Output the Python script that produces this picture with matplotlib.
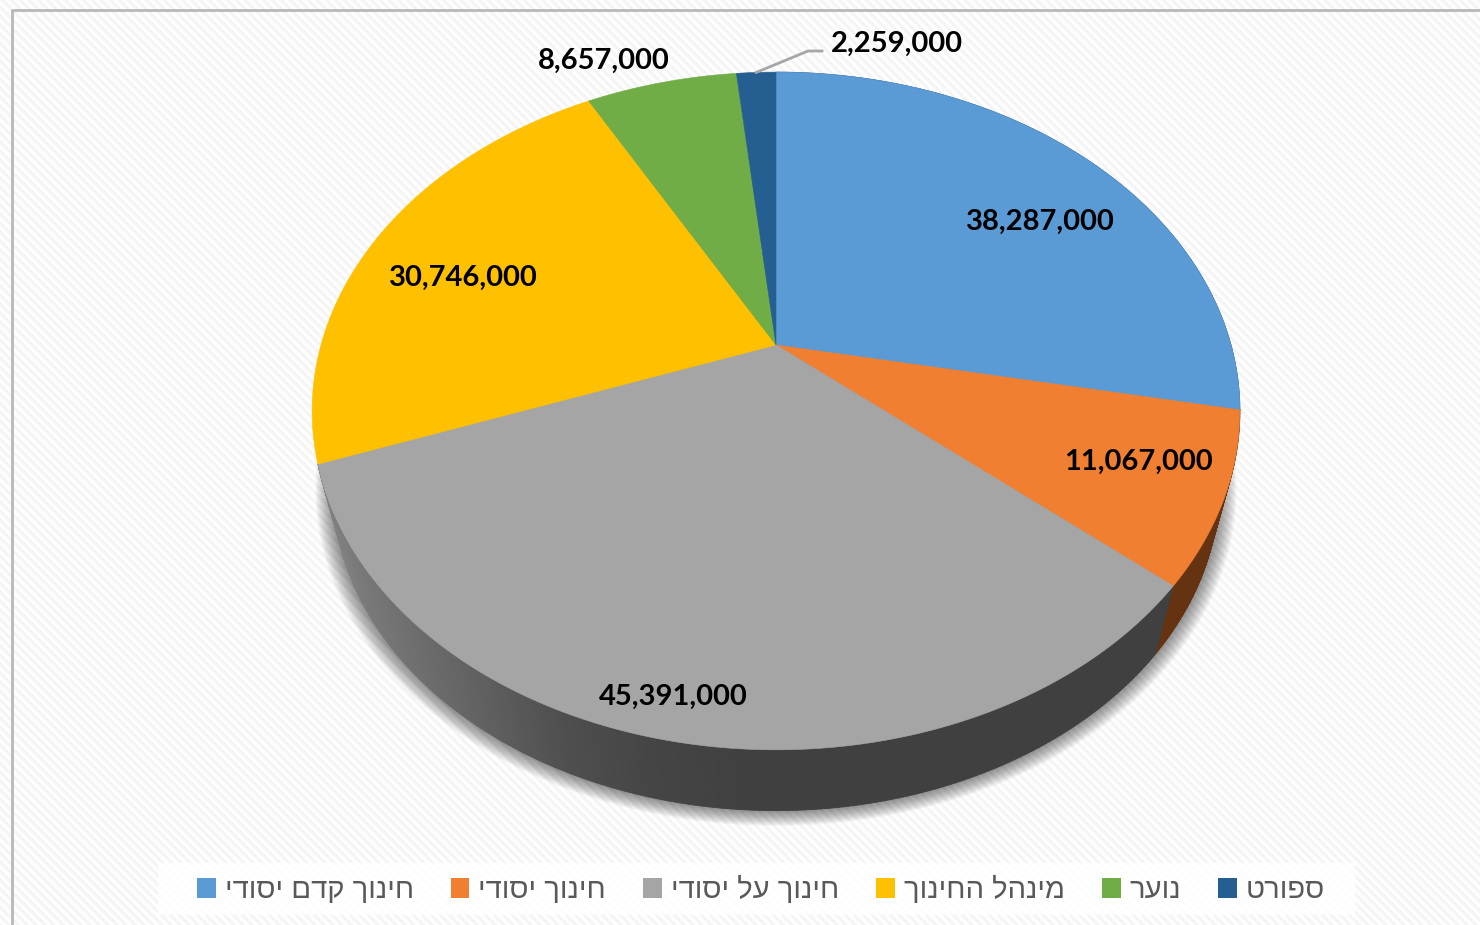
import matplotlib
matplotlib.use('Agg')
import matplotlib.pyplot as plt
import numpy as np
from matplotlib.collections import PolyCollection
from matplotlib.patches import Patch, Polygon, Rectangle

# legend names, logical order (matplotlib has no bidi, they get reversed when drawn)
names = ['חינוך קדם יסודי', 'חינוך יסודי', 'חינוך על יסודי', 'מינהל החינוך', 'נוער', 'ספורט']
values = [38287000, 11067000, 45391000, 30746000, 8657000, 2259000]

colors = ['#5B9BD5', '#F07F31', '#A5A5A5', '#FFC000', '#70AD47', '#255E91']
label_xy = [(1040, 222), (1138, 462), (673, 697), (463, 278), (604, 61), (897, 44)]

# pie geometry in pixels
cx, cy = 776, 345
a, b, k = 455, 326, 0.1947
depth, shrink = 79, 0.955


def project(deg, scale=1.0, dy=0.0, grow=1.0):
    # clockwise degrees from 12 o'clock -> tilted disc seen in perspective
    t = np.radians(deg)
    u, v = np.sin(t), -np.cos(t)
    x = a * u / (1 - k * v)
    y = b * v / (1 - k * v)
    return cx + x * scale * grow, cy + dy + y * scale * grow


fig = plt.figure(figsize=(14.8, 9.25), dpi=100)
ax = fig.add_axes([0, 0, 1, 1])
ax.set_xlim(0, 1480)
ax.set_ylim(925, 0)
ax.axis('off')

# diagonal texture of the chart area
yy, xx = np.mgrid[0:925, 0:1480]
stripes = 0.5 + 0.5 * np.sin((xx - yy) * 2 * np.pi / 9)
ax.imshow(1 - 0.045 * stripes, cmap='gray', vmin=0, vmax=1, extent=(0, 1480, 925, 0),
          aspect='auto', interpolation='bilinear', zorder=0)
ax.plot([12, 12, 1480], [925, 10, 10], color='#b8b8b8', lw=2, zorder=1)

# soft shadow round the bottom of the pie
rim = np.linspace(0, 360, 361)
for e in np.arange(1, 19):
    sx, sy = project(rim, shrink, depth, 1 + e / 450)
    ax.add_patch(Polygon(np.column_stack([sx, sy]), closed=True, fc='black', ec='none',
                         alpha=0.028, zorder=2))

# slice boundaries in degrees
shares = np.array(values) / sum(values)
edges = np.concatenate([[0], np.cumsum(shares)]) * 360

# side wall, strip by strip
strips, strip_colors = [], []
grey_x = [330, 360, 450, 560, 650, 750]
grey_v = [0.50, 0.47, 0.40, 0.31, 0.27, 0.25]
for i in range(3):
    d = np.arange(edges[i], edges[i + 1], 0.5)
    d = np.append(d, edges[i + 1])
    for d0, d1 in zip(d[:-1], d[1:]):
        x0, y0 = project(d0)
        x1, y1 = project(d1)
        x2, y2 = project(d1, shrink, depth)
        x3, y3 = project(d0, shrink, depth)
        strips.append([(x0, y0), (x1, y1), (x2, y2), (x3, y3)])
        if i == 1:
            strip_colors.append('#653311')
        elif i == 2:
            g = np.interp(x0, grey_x, grey_v)
            strip_colors.append((g, g, g))
        else:
            strip_colors.append('#2f5f8a')
ax.add_collection(PolyCollection(strips, facecolors=strip_colors, edgecolors=strip_colors,
                                 linewidths=0.6, zorder=3))

# top of the pie
for i in range(len(values)):
    d = np.linspace(edges[i], edges[i + 1], 200)
    x, y = project(d)
    pts = np.column_stack([np.r_[cx, x], np.r_[cy, y]])
    ax.add_patch(Polygon(pts, closed=True, fc=colors[i], ec=colors[i], lw=0.4, zorder=4))

# leader line of the smallest slice
lx, ly = project((edges[5] + edges[6]) / 2)
ax.plot([lx, 808, 822], [ly, 51, 51], color='#a6a6a6', lw=2, zorder=5)

for v, (tx, ty) in zip(values, label_xy):
    ax.text(tx, ty, f'{v:,}', ha='center', va='center', fontsize=21, fontweight='bold',
            family='Lato', color='black', zorder=6)

# legend sits on a white band
ax.add_patch(Rectangle((158, 863), 1197, 52, fc='white', ec='none', alpha=0.85, zorder=5))
handles = [Patch(facecolor=c, edgecolor='none') for c in colors]
labels = [n[::-1] for n in names]
leg = ax.legend(handles, labels, ncol=6, loc='center', bbox_to_anchor=(761, 890),
                bbox_transform=ax.transData, frameon=False, handlelength=0.65, handleheight=0.65,
                handletextpad=0.31, columnspacing=1.26, borderpad=0, borderaxespad=0,
                prop={'family': 'Liberation Sans', 'size': 21}, labelcolor='#595959')
leg.set_zorder(6)

fig.savefig('out.png', dpi=100)
